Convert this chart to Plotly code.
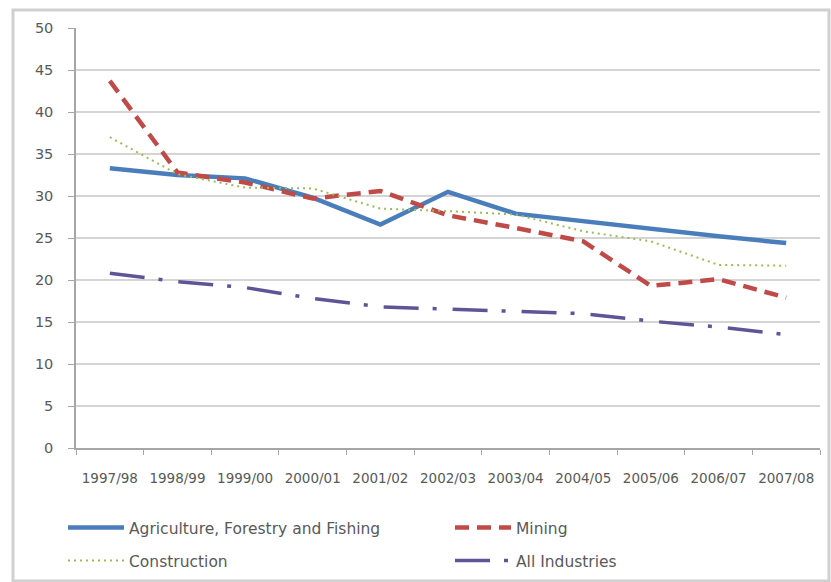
import plotly.graph_objects as go

# Financial years
years = ["1997/98", "1998/99", "1999/00", "2000/01", "2001/02", "2002/03",
         "2003/04", "2004/05", "2005/06", "2006/07", "2007/08"]

# Series values
agriculture = [33.3, 32.5, 32.1, 29.8, 26.6, 30.5, 27.9, 27.0, 26.0, 25.2, 24.4]
mining = [43.7, 32.8, 31.6, 29.7, 30.6, 27.7, 26.2, 24.6, 19.3, 20.1, 17.9]
construction = [37.0, 32.6, 31.0, 30.9, 28.5, 28.2, 27.8, 25.8, 24.6, 21.8, 21.7]
all_industries = [20.8, 19.8, 19.1, 17.8, 16.8, 16.5, 16.3, 16.0, 15.1, 14.4, 13.5]

y_ticks = [0, 5, 10, 15, 20, 25, 30, 35, 40, 45, 50]

W, H = 831, 582
L, R, T, B = 76, 11, 28, 134
pw, ph = W - L - R, H - T - B

def px_x(x):
    return (x - L) / pw

def px_y(y):
    return (H - B - y) / ph

fig = go.Figure()

fig.add_trace(go.Scatter(
    x=years, y=agriculture, name="Agriculture, Forestry and Fishing",
    mode="lines", line=dict(color="#4A7EBB", width=4.5), legend="legend"))
fig.add_trace(go.Scatter(
    x=years, y=mining, name="Mining",
    mode="lines", line=dict(color="#BE4B48", width=4.5, dash="14px,8px"),
    legend="legend2"))
fig.add_trace(go.Scatter(
    x=years, y=construction, name="Construction",
    mode="lines", line=dict(color="#9BBB59", width=2, dash="2px,4px"),
    legend="legend3"))
fig.add_trace(go.Scatter(
    x=years, y=all_industries, name="All Industries",
    mode="lines", line=dict(color="#5F5596", width=3.5, dash="35px,14px,4px,16px"),
    legend="legend4"))

legend_common = dict(
    orientation="h", xanchor="left", yanchor="middle",
    font=dict(family="DejaVu Sans", size=15.5, color="#595959"),
    bgcolor="rgba(0,0,0,0)", itemwidth=56,
    itemclick=False, itemdoubleclick=False,
)

fig.update_layout(
    width=W, height=H,
    margin=dict(l=L, r=R, t=T, b=B, pad=0, autoexpand=False),
    paper_bgcolor="white", plot_bgcolor="white",
    showlegend=True,
    legend=dict(x=px_x(63), y=px_y(528), **legend_common),
    legend2=dict(x=px_x(450), y=px_y(528), **legend_common),
    legend3=dict(x=px_x(63), y=px_y(561), **legend_common),
    legend4=dict(x=px_x(450), y=px_y(561), **legend_common),
    xaxis=dict(
        type="category", range=[-0.5, len(years) - 0.5],
        tickson="boundaries", ticks="outside", ticklen=5, tickcolor="#A6A6A6",
        showline=True, linecolor="#A6A6A6", linewidth=1.5,
        showgrid=False, zeroline=False,
        tickfont=dict(family="DejaVu Sans", size=13.5, color="#595959"),
        ticklabelstandoff=17,
    ),
    yaxis=dict(
        range=[0, 50], tickvals=y_ticks, ticktext=[str(v) for v in y_ticks],
        ticks="outside", ticklen=6, tickcolor="#A6A6A6",
        showline=True, linecolor="#A6A6A6", linewidth=1.5,
        showgrid=True, gridcolor="#D4D4D4", gridwidth=1.5,
        zeroline=False,
        tickfont=dict(family="DejaVu Sans", size=14.5, color="#595959"),
        ticklabelstandoff=12,
    ),
    shapes=[
        # chart area frame
        dict(type="rect", xref="paper", yref="paper",
             x0=px_x(13), x1=px_x(829), y0=px_y(581), y1=px_y(10),
             line=dict(color="#D0D0D0", width=3), layer="below"),
    ],
)

fig.write_html("out.html")
